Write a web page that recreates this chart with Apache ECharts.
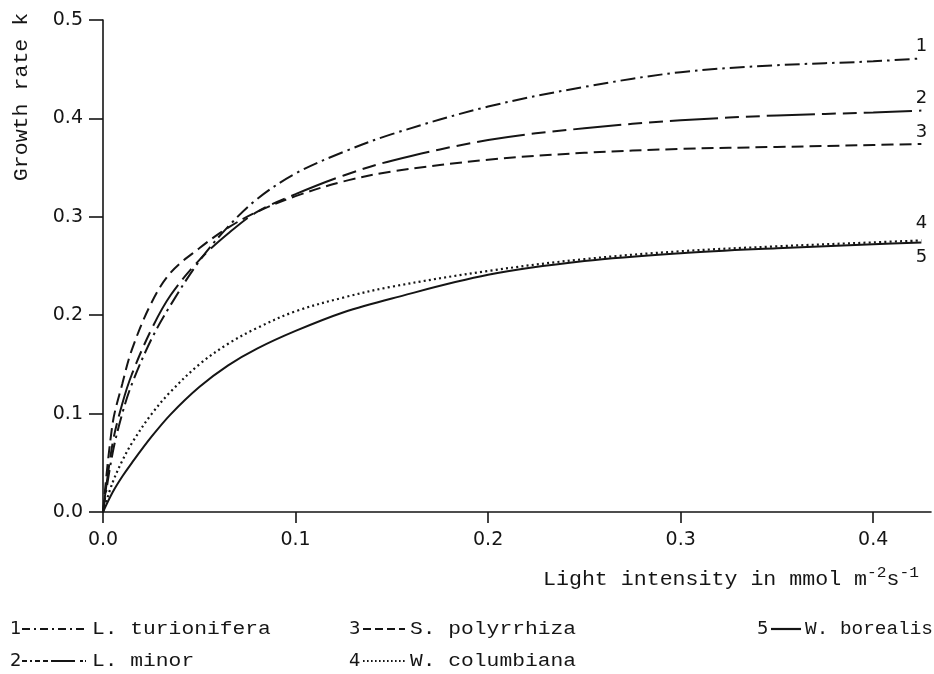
<!DOCTYPE html>
<html>
<head>
<meta charset="utf-8">
<script src="https://cdn.jsdelivr.net/npm/echarts@6/dist/echarts.min.js"></script>
<style>
  html, body { margin: 0; padding: 0; background: #ffffff; }
  #chart { width: 934px; height: 674px; }
</style>
</head>
<body>
<div id="chart"></div>
<script>
// Light intensity (mmol m^-2 s^-1) at which each growth curve is sampled
const lightIntensity = [0, 0.005, 0.01, 0.015, 0.025, 0.035, 0.05, 0.065, 0.08, 0.1, 0.125, 0.15, 0.2, 0.25, 0.3, 0.35, 0.4, 0.425];

// Growth rate k for each species
const lTurionifera = [0, 0.060, 0.100, 0.130, 0.175, 0.210, 0.255, 0.290, 0.318, 0.344, 0.366, 0.384, 0.412, 0.432, 0.447, 0.454, 0.458, 0.461];
const lMinor       = [0, 0.070, 0.110, 0.140, 0.185, 0.220, 0.256, 0.283, 0.305, 0.323, 0.342, 0.357, 0.378, 0.390, 0.398, 0.403, 0.406, 0.408];
const sPolyrrhiza  = [0, 0.090, 0.130, 0.165, 0.212, 0.243, 0.268, 0.289, 0.305, 0.321, 0.336, 0.346, 0.358, 0.365, 0.369, 0.371, 0.373, 0.374];
const wColumbiana  = [0, 0.030, 0.052, 0.070, 0.099, 0.122, 0.150, 0.171, 0.187, 0.204, 0.218, 0.229, 0.245, 0.257, 0.265, 0.270, 0.274, 0.276];
const wBorealis    = [0, 0.020, 0.036, 0.050, 0.076, 0.099, 0.127, 0.149, 0.166, 0.184, 0.203, 0.217, 0.241, 0.255, 0.263, 0.268, 0.272, 0.274];

const speciesNames = ['L. turionifera', 'L. minor', 'S. polyrrhiza', 'W. columbiana', 'W. borealis'];
const curveNumbers = ['1', '2', '3', '4', '5'];
const speciesValues = [lTurionifera, lMinor, sPolyrrhiza, wColumbiana, wBorealis];

const xTickValues = [0, 0.1, 0.2, 0.3, 0.4];
const yTickValues = [0, 0.1, 0.2, 0.3, 0.4, 0.5];

// Drawing styles per curve
const INK = '#151515';
const curveLooks = [
  { dash: [15, 5, 2.5, 5], width: 2, legendDash: [8, 4, 2, 4], labelPos: 'top', labelDist: 3 },
  { dash: [48, 7, 14, 7, 14, 7], width: 2, legendDash: [5, 3, 2, 3, 5, 3, 5, 3, 24], labelPos: 'top', labelDist: 3 },
  { dash: [12, 6], width: 2, legendDash: [8, 4], labelPos: 'top', labelDist: 3 },
  { dash: [2, 3.2], width: 2.2, legendDash: [1.6, 2.4], labelPos: 'top', labelDist: 8 },
  { dash: 'solid', width: 2, legendDash: null, labelPos: 'bottom', labelDist: 6 }
];

const tickFont = { fontFamily: 'DejaVu Sans', fontSize: 19, color: INK };
const monoFont = 'Liberation Mono';

const series = speciesValues.map((vals, i) => {
  const look = curveLooks[i];
  const last = vals.length - 1;
  return {
    name: speciesNames[i],
    type: 'line',
    smooth: 0.35,
    symbol: 'circle',
    symbolSize: 0,
    showSymbol: true,
    silent: true,
    z: i === 3 ? 4 : 3,
    lineStyle: { color: INK, width: look.width, type: look.dash, cap: 'butt' },
    itemStyle: { color: INK },
    label: { show: false },
    data: vals.map((v, j) => {
      const item = { value: [lightIntensity[j], v] };
      if (j === last) {
        item.label = {
          show: true,
          formatter: curveNumbers[i],
          position: look.labelPos,
          distance: look.labelDist,
          fontFamily: 'DejaVu Sans',
          fontSize: 18,
          color: INK
        };
      }
      return item;
    })
  };
});

// Legend drawn as: number, line sample, species name
const legendSlots = [
  { idx: 0, row: 0, col: 0 },
  { idx: 2, row: 0, col: 1 },
  { idx: 4, row: 0, col: 2 },
  { idx: 1, row: 1, col: 0 },
  { idx: 3, row: 1, col: 1 }
];
const colNumberX = [10, 349, 757];
const colLine = [[22, 86], [363, 405], [771, 801]];
const colTextX = [92, 410, 805];
const colTextScale = [1.12, 1.12, 1.02];
const rowY = [629, 661];

const legendGraphics = [];
legendSlots.forEach(slot => {
  const look = curveLooks[slot.idx];
  const y = rowY[slot.row];
  legendGraphics.push({
    type: 'text', x: colNumberX[slot.col], y: y,
    style: { text: curveNumbers[slot.idx], font: '18px "DejaVu Sans"', fill: INK, verticalAlign: 'middle', align: 'left' }
  });
  legendGraphics.push({
    type: 'line',
    shape: { x1: colLine[slot.col][0], y1: y, x2: colLine[slot.col][1], y2: y },
    style: { stroke: INK, lineWidth: slot.idx === 4 ? 2.2 : 1.8, lineDash: look.legendDash }
  });
  legendGraphics.push({
    type: 'text', x: colTextX[slot.col], y: y, scaleX: colTextScale[slot.col],
    style: { text: speciesNames[slot.idx], font: '19px "' + monoFont + '"', fill: INK, verticalAlign: 'middle', align: 'left' }
  });
});

const chart = echarts.init(document.getElementById('chart'), null, { renderer: 'canvas' });

chart.setOption({
  backgroundColor: '#ffffff',
  animation: false,
  grid: { left: 103, right: 3, top: 20, bottom: 162, containLabel: false },
  xAxis: {
    type: 'value',
    min: 0,
    max: 0.43,
    interval: 0.1,
    axisLine: { show: true, onZero: false, lineStyle: { color: INK, width: 1.6 } },
    axisTick: { show: true, inside: false, length: 11, customValues: xTickValues, lineStyle: { color: INK, width: 1.6 } },
    axisLabel: Object.assign({ margin: 19, customValues: xTickValues, formatter: v => v.toFixed(1) }, tickFont),
    splitLine: { show: false }
  },
  yAxis: {
    type: 'value',
    min: 0,
    max: 0.5,
    interval: 0.1,
    axisLine: { show: true, onZero: false, lineStyle: { color: INK, width: 1.6 } },
    axisTick: { show: true, inside: false, length: 14, customValues: yTickValues, lineStyle: { color: INK, width: 1.6 } },
    axisLabel: Object.assign({ margin: 20, customValues: yTickValues, formatter: v => v.toFixed(1) }, tickFont),
    splitLine: { show: false }
  },
  series: series,
  graphic: [
    {
      type: 'text', x: 22, y: 97, rotation: Math.PI / 2, scaleX: 1.08,
      style: { text: 'Growth rate k', font: '20px "' + monoFont + '"', fill: INK, align: 'center', verticalAlign: 'middle' }
    },
    {
      type: 'text', x: 543, y: 578, scaleX: 1.08,
      style: {
        text: '{a|Light intensity in mmol m}{s|-2}{a|s}{s|-1}',
        verticalAlign: 'middle', align: 'left',
        rich: {
          a: { fontFamily: monoFont, fontSize: 20, fill: INK, color: INK, lineHeight: 24, verticalAlign: 'bottom' },
          s: { fontFamily: monoFont, fontSize: 15, fill: INK, color: INK, lineHeight: 24, verticalAlign: 'top', padding: [0, 0, 10, 0] }
        }
      }
    }
  ].concat(legendGraphics)
});
</script>
</body>
</html>
